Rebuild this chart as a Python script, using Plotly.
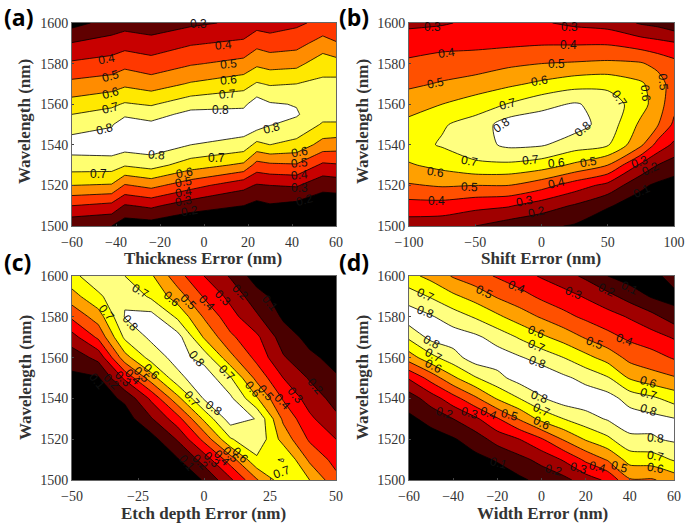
import numpy as np
import plotly.graph_objects as go

levels_start, levels_end, levels_step = 0.1, 0.8, 0.1

# ---------- panel (a) ----------
a_x = [-60, -42, -36, -24, -6, 18, 24, 30, 42, 54, 60]
a_wl = [1500, 1510, 1520, 1530, 1540, 1550, 1555, 1560, 1570, 1580, 1590, 1600]
a_cols = [
    [.22, .40, .60, .75, .85, .75, .70, .64, .525, .415, .305, .165],
    [.20, .37, .59, .75, .86, .79, .735, .68, .55, .44, .34, .24],
    [.14, .29, .49, .71, .85, .86, .78, .71, .58, .47, .36, .26],
    [.15, .32, .53, .74, .86, .82, .76, .69, .55, .44, .34, .24],
    [.12, .24, .44, .65, .80, .86, .83, .76, .61, .49, .39, .28],
    [.10, .20, .33, .58, .76, .86, .83, .78, .66, .53, .42, .32],
    [.10, .17, .29, .46, .67, .85, .88, .85, .71, .58, .47, .36],
    [.10, .19, .30, .48, .70, .805, .84, .81, .69, .56, .45, .35],
    [.09, .17, .31, .49, .67, .77, .81, .795, .70, .57, .465, .38],
    [.10, .14, .23, .38, .56, .69, .73, .74, .72, .66, .54, .43],
    [.095, .135, .24, .39, .55, .69, .73, .74, .73, .64, .51, .40],
]
a_labels = [
    (-2.5, 1599.3, "0.3", 0), (8.9, 1589, "0.4", -5), (11.1, 1580, "0.5", -5), (11.1, 1572.1, "0.6", -5),
    (10.8, 1564.8, "0.7", -5), (7.3, 1557, "0.8", 0), (30.8, 1548.5, "0.8", -15), (-21.4, 1534.9, "0.8", 5),
    (5.5, 1533.3, "0.7", 0), (-47.9, 1525.6, "0.7", 0), (-45.3, 1548, "0.8", -15), (-42.6, 1557.9, "0.7", -15),
    (-42.3, 1565.6, "0.6", -15), (-42.3, 1573.8, "0.5", -15), (-44.4, 1582.5, "0.4", -10),
    (-9, 1526.2, "0.6", -10), (-9.3, 1521.8, "0.5", -10), (-9.3, 1516.9, "0.4", -10), (-9.3, 1512.3, "0.3", -10),
    (-6.6, 1507.4, "0.2", -10), (43.4, 1536.6, "0.6", -10), (43.2, 1530.8, "0.5", -5), (43.2, 1525.1, "0.4", -5),
    (43.2, 1518.9, "0.3", 0), (45.9, 1512.8, "0.2", -15),
]

# ---------- panel (b) ----------
b_x = [-100, -75, -50, -25, 0, 25, 50, 75, 87.5, 100]
b_wl = [1500, 1510, 1520, 1530, 1540, 1550, 1560, 1570, 1580, 1590, 1600]
b_cols = [
    [.25, .36, .49, .59, .66, .625, .56, .48, .42, .35, .28],
    [.24, .36, .51, .63, .71, .69, .60, .51, .44, .37, .29],
    [.20, .33, .50, .68, .76, .74, .65, .54, .45, .375, .32],
    [.15, .31, .50, .68, .82, .85, .705, .58, .48, .38, .32],
    [.12, .25, .44, .65, .81, .86, .77, .62, .50, .39, .31],
    [.09, .19, .35, .58, .75, .84, .81, .66, .51, .39, .28],
    [.03, .11, .27, .50, .71, .76, .76, .67, .52, .39, .26],
    [.02, .05, .12, .28, .52, .578, .64, .615, .51, .35, .19],
    [.02, .03, .08, .20, .365, .51, .55, .55, .47, .33, .17],
    [.02, .03, .06, .15, .28, .38, .43, .45, .43, .31, .13],
]
b_labels = [
    (-82.4, 1598, "0.3", 0), (21.4, 1598, "0.3", 0), (-71.8, 1585.4, "0.4", -8), (20.2, 1589, "0.4", 0),
    (-79.8, 1570.5, "0.5", -12), (11.3, 1580, "0.5", 0), (-1.8, 1571.3, "0.6", -10), (-25.7, 1560.3, "0.7", -15),
    (-30.2, 1549.7, "0.8", -35), (31, 1548, "0.8", -40), (59.2, 1562.8, "0.7", 55), (78.8, 1565.2, "0.6", 85),
    (91.9, 1571, "0.5", 85), (-54.7, 1532.1, "0.7", 10), (-8.3, 1532.5, "0.7", -5), (11.3, 1530.8, "0.6", -5),
    (35.3, 1531.3, "0.5", -10), (11.3, 1521.3, "0.4", -12), (-12.6, 1512.3, "0.3", -12), (-3.8, 1507, "0.2", -12),
    (-79.8, 1526.7, "0.6", 8), (-54.7, 1519.3, "0.5", 3), (-79.3, 1512.3, "0.4", 0), (73.8, 1531.6, "0.3", -20),
    (81.9, 1528, "0.2", -25), (75.6, 1517.4, "0.1", -25),
]

# ---------- panel (c) ----------
c_x = [-50, -40, -30, -20, -10, 0, 10, 20, 30, 40, 50]
c_wl = [1500, 1510, 1520, 1530, 1540, 1550, 1560, 1570, 1580, 1590, 1600]
c_cols = [
    [.01, .02, .03, .04, .06, .08, .14, .26, .42, .56, .67],
    [.00, .01, .02, .03, .05, .09, .23, .42, .55, .68, .77],
    [.00, .00, .02, .05, .12, .32, .56, .72, .805, .79, .70],
    [.00, .01, .06, .19, .32, .55, .74, .82, .84, .68, .615],
    [.00, .09, .21, .36, .57, .77, .84, .84, .68, .55, .44],
    [.11, .24, .43, .62, .81, .87, .76, .59, .49, .39, .30],
    [.28, .45, .69, .85, .82, .71, .53, .42, .34, .27, .19],
    [.49, .68, .78, .795, .61, .47, .37, .32, .215, .14, .05],
    [.66, .705, .56, .48, .39, .30, .21, .15, .085, .05, .02],
    [.60, .48, .385, .32, .255, .19, .12, .07, .04, .02, .01],
    [.43, .365, .30, .22, .165, .11, .07, .04, .02, .01, .005],
]
c_labels = [
    (-24.1, 1592.8, "0.7", 30), (-12.2, 1588.6, "0.6", 40), (-5.9, 1587.4, "0.5", 45), (1.1, 1586.6, "0.4", 45),
    (7.1, 1589, "0.3", 45), (13.7, 1592.3, "0.2", 45), (24.8, 1586.6, "0.1", 50), (-36.8, 1582, "0.7", 50),
    (-27.9, 1577.1, "0.8", 50), (-2.7, 1559.2, "0.8", 50), (8.6, 1552.3, "0.7", 45), (18.3, 1544.4, "0.6", 50),
    (23.4, 1542.5, "0.5", 50), (29.8, 1538.4, "0.4", 45), (34.5, 1541.7, "0.3", 50), (42.1, 1546.1, "0.2", 50),
    (-4.6, 1539.5, "0.7", 50), (3.6, 1535.1, "0.8", 35), (29.4, 1504.1, "0.7", -20),
    (-40.5, 1548.7, "0.1", 50), (-34.9, 1548.2, "0.2", 45), (-30.7, 1549.3, "0.3", 45), (-27, 1550.3, "0.4", 45),
    (-23.5, 1551.5, "0.5", 45), (-19.7, 1553.1, "0.6", 45),
    (-6.5, 1508.2, "0.1", 50), (-1.5, 1509, "0.2", 45), (3, 1509.8, "0.3", 45), (6.7, 1510.6, "0.4", 45),
    (10.2, 1512.3, "0.5", 45), (13.7, 1512.3, "0.6", 45),
]

# ---------- panel (d) ----------
d_x = [-60, -50, -40, -30, -20, -10, 0, 10, 20, 30, 40, 50, 60]
d_wl = [1500, 1510, 1520, 1530, 1540, 1550, 1560, 1570, 1580, 1590, 1600]
d_cols = [
    [.00, .01, .03, .08, .15, .31, .55, .72, .86, .75, .63],
    [.00, .02, .06, .13, .25, .44, .67, .83, .81, .69, .57],
    [.00, .04, .09, .20, .36, .58, .76, .85, .75, .62, .49],
    [.01, .07, .15, .28, .48, .69, .85, .82, .69, .56, .44],
    [.04, .11, .24, .39, .61, .77, .85, .76, .62, .49, .39],
    [.08, .17, .30, .51, .70, .84, .81, .69, .55, .44, .34],
    [.13, .23, .39, .63, .79, .87, .76, .62, .49, .38, .29],
    [.17, .31, .51, .70, .85, .82, .70, .56, .43, .34, .24],
    [.25, .42, .61, .76, .86, .77, .63, .49, .38, .29, .18],
    [.32, .51, .68, .81, .84, .71, .56, .43, .34, .23, .10],
    [.49, .64, .78, .85, .76, .59, .47, .38, .29, .16, .05],
    [.49, .65, .79, .83, .72, .54, .44, .34, .23, .09, .05],
    [.54, .71, .815, .805, .66, .51, .39, .29, .15, .06, .16],
]
d_labels = [
    (-52.4, 1590.7, "0.7", 25), (-52.4, 1582.5, "0.8", 20), (-25.7, 1592.3, "0.5", 25), (-11.3, 1594.4, "0.4", 22),
    (14.7, 1591.5, "0.3", 22), (29.5, 1593.1, "0.2", 25), (40, 1594, "0.1", 25), (-2.3, 1572.7, "0.6", 22),
    (-2.3, 1565.7, "0.7", 22), (-2, 1558, "0.8", 20), (24.2, 1567, "0.5", 20), (37.8, 1568.6, "0.4", 20),
    (48.4, 1548.2, "0.6", 18), (48.4, 1542.2, "0.7", 18), (48.4, 1534.3, "0.8", 18), (-49.9, 1567.5, "0.8", 28),
    (-49.1, 1561.3, "0.7", 28), (-49.1, 1555.9, "0.6", 28), (-43.8, 1532.7, "0.2", 15), (-32.5, 1532.7, "0.3", 15),
    (-24.2, 1532.7, "0.4", 20), (-14.4, 1531.9, "0.5", 15), (-0.8, 1540.8, "0.8", 20), (0, 1534.3, "0.7", 25),
    (0, 1527.8, "0.6", 25), (51.4, 1520.4, "0.8", 5), (51.4, 1511.9, "0.7", 10), (51.4, 1505.7, "0.6", 10),
    (-19.6, 1508.2, "0.1", 15), (5.3, 1504.9, "0.2", 15), (16.6, 1505.7, "0.3", 15), (25.2, 1506.5, "0.4", 15),
    (35.5, 1506.5, "0.5", 15),
]

# band colours, lowest to highest
hot_a = ["#000000", "#000000", "#600000", "#c80000", "#ff3800", "#ff8c00", "#ffe800", "#ffff70", "#ffffff"]
hot_bcd = ["#000000", "#4a0000", "#a00000", "#ff0000", "#ff5000", "#ffa000", "#ffff00", "#ffff80", "#ffffff"]

y_ticks = [1500, 1520, 1540, 1560, 1580, 1600]
y_title = "Wavelength (nm)"
panels = [
    ("(a)", a_x, a_wl, a_cols, a_labels, hot_a, "Thickness Error (nm)", [-60, -40, -20, 0, 20, 40, 60],
     (72, 336, 23, 226), (2, 17), 0, (203, 258), (25, 122)),
    ("(b)", b_x, b_wl, b_cols, b_labels, hot_bcd, "Shift Error (nm)", [-100, -50, 0, 50, 100],
     (409, 674, 23, 226), (337, 17), 0.7, (541, 258), (363, 122)),
    ("(c)", c_x, c_wl, c_cols, c_labels, hot_bcd, "Etch depth Error (nm)", [-50, -25, 0, 25, 50],
     (72, 336, 276, 480), (2, 262), 0, (203, 513), (25, 378)),
    ("(d)", d_x, d_wl, d_cols, d_labels, hot_bcd, "Width Error (nm)", [-60, -40, -20, 0, 20, 40, 60],
     (409, 674, 276, 480), (337, 262), 0.7, (542, 513), (362, 378)),
]

W, H = 685, 531
TEXT = "#333333"
title_font = dict(family="Liberation Serif", size=17, color=TEXT)
fig = go.Figure()
for i, (letter, xs, wl, cols, labels, colours, xtitle, xticks, box, lab, smooth, xt, yt) in enumerate(panels):
    n = i + 1
    z = np.array(cols).T
    stops = [[k / (len(colours) - 1), c] for k, c in enumerate(colours)]
    fig.add_trace(go.Contour(
        x=xs, y=wl, z=z, xaxis=f"x{n}", yaxis=f"y{n}",
        autocontour=False, showscale=False, colorscale=stops, hoverinfo="skip",
        contours=dict(start=levels_start, end=levels_end, size=levels_step, coloring="fill", showlabels=False),
        line=dict(color="black", width=0.8, smoothing=smooth),
    ))
    l, r, t, b = box
    axis = dict(showline=True, mirror=True, linecolor="#666666", linewidth=1, ticks="inside", ticklen=2,
                tickcolor="#444444", showgrid=False, zeroline=False, automargin=False,
                tickfont=dict(family="Liberation Serif", size=14, color=TEXT))
    fig.update_layout({
        f"xaxis{n}": dict(axis, domain=[l / W, r / W], range=[min(xticks), max(xticks)], tickvals=xticks,
                          anchor=f"y{n}", ticklabelstandoff=3),
        f"yaxis{n}": dict(axis, domain=[1 - b / H, 1 - t / H], range=[1500, 1600], tickvals=y_ticks,
                          anchor=f"x{n}"),
    })
    fig.add_annotation(text=f"<b>{letter}</b>", xref="paper", yref="paper", x=lab[0] / W, y=1 - lab[1] / H,
                       xanchor="left", yanchor="middle", showarrow=False,
                       font=dict(family="Open Sans", size=23, color="black"))
    fig.add_annotation(text=f"<b>{xtitle}</b>", xref="paper", yref="paper", x=xt[0] / W, y=1 - xt[1] / H,
                       xanchor="center", yanchor="middle", showarrow=False, font=title_font)
    fig.add_annotation(text=f"<b>{y_title}</b>", xref="paper", yref="paper", x=yt[0] / W, y=1 - yt[1] / H,
                       xanchor="center", yanchor="middle", showarrow=False, textangle=-90, font=title_font)
    for (lx, ly, txt, ang) in labels:
        fig.add_annotation(text=txt, x=lx, y=ly, xref=f"x{n}", yref=f"y{n}", textangle=ang, showarrow=False,
                           font=dict(family="Liberation Sans", size=12, color="#111111"))

fig.update_layout(width=W, height=H, margin=dict(l=0, r=0, t=0, b=0), paper_bgcolor="white", plot_bgcolor="white")
fig.write_html("out.html", config=dict(displayModeBar=False),
               post_script="document.body.style.margin='0';")
